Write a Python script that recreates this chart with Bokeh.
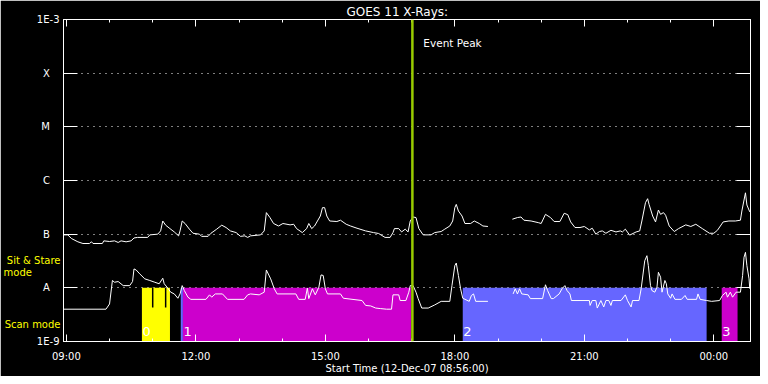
import math
from bokeh.plotting import figure
from bokeh.models import Range1d, FixedTicker, LinearAxis, LogAxis, Label, Span
from bokeh.embed import file_html
from bokeh.resources import INLINE

NAN = float("nan")

# ---------------- data ----------------
# GOES 11 long channel (1-8 A), W/m^2
long_time = ["08:56","09:02","09:07","09:16","09:23","09:32","09:35","09:37","09:50","09:52",
             "10:00","10:07","10:12","10:16","10:23","10:30","10:34","10:39","10:53","10:56",
             "11:07","11:11","11:14","11:18","11:24","11:30","11:36","11:38","11:41","11:45",
             "11:51","11:56","12:05","12:08","12:17","12:21","12:29","12:36","12:42","12:48",
             "12:56","13:02","13:08","13:12","13:16","13:30","13:35","13:38","13:43","13:48",
             "13:55","14:01","14:11","14:16","14:20","14:28","14:34","14:37","14:41","14:45",
             "14:49","14:53","14:56","14:59","15:02","15:06","15:16","15:21","15:29","15:35",
             "15:44","15:56","16:07","16:14","16:23","16:30","16:34","16:36","16:42","16:46",
             "16:51","16:55","16:58","17:02","17:06","17:10","17:16","17:27","17:32","17:41",
             "17:46","17:53","17:57","18:00","18:02","18:05","18:10","18:14","18:22","18:27",
             "18:34","18:39","18:46","19:03","19:20","19:27","19:32","19:36","19:46","19:56",
             "20:00","20:06","20:13","20:18","20:26","20:32","20:37","20:41","20:47","20:54",
             "21:00","21:07","21:11","21:16","21:21","21:25","21:30","21:37","21:44","21:50",
             "21:53","21:57","22:03","22:12","22:17","22:20","22:25","22:28","22:30","22:35",
             "22:39","22:43","22:46","22:50","22:53","22:58","23:05","23:11","23:21","23:28",
             "23:35","23:44","23:54","00:00","00:05","00:13","00:21","00:30","00:37","00:39",
             "00:44","00:46","00:50"]
long_flux = [0.97e-7,0.97e-7,0.83e-7,0.72e-7,0.67e-7,0.67e-7,0.72e-7,0.67e-7,0.67e-7,0.75e-7,
             0.73e-7,0.75e-7,0.70e-7,0.75e-7,0.72e-7,0.75e-7,0.85e-7,0.87e-7,0.87e-7,0.97e-7,
             1.00e-7,1.15e-7,1.76e-7,1.47e-7,1.27e-7,1.10e-7,0.93e-7,1.15e-7,1.76e-7,1.58e-7,
             1.24e-7,1.04e-7,1.00e-7,0.91e-7,0.91e-7,1.04e-7,1.24e-7,1.47e-7,1.33e-7,1.15e-7,
             1.07e-7,0.91e-7,0.93e-7,0.87e-7,0.93e-7,0.97e-7,1.15e-7,2.52e-7,2.04e-7,1.58e-7,
             1.42e-7,1.58e-7,1.49e-7,1.53e-7,1.27e-7,1.07e-7,1.27e-7,1.58e-7,1.27e-7,1.42e-7,
             1.76e-7,2.18e-7,3.12e-7,3.12e-7,2.18e-7,1.76e-7,1.72e-7,1.82e-7,1.53e-7,1.42e-7,
             1.29e-7,1.15e-7,1.07e-7,1.03e-7,0.87e-7,0.87e-7,1.07e-7,1.27e-7,1.27e-7,1.10e-7,
             1.24e-7,1.10e-7,1.76e-7,2.09e-7,2.04e-7,1.27e-7,0.97e-7,0.97e-7,1.07e-7,1.12e-7,
             1.24e-7,1.42e-7,1.76e-7,3.12e-7,3.59e-7,2.70e-7,2.18e-7,1.58e-7,1.58e-7,1.76e-7,
             1.58e-7,1.42e-7,1.39e-7,NAN,1.90e-7,2.04e-7,2.09e-7,1.82e-7,1.76e-7,1.64e-7,
             1.58e-7,2.34e-7,2.04e-7,1.72e-7,1.72e-7,2.45e-7,2.31e-7,1.69e-7,1.33e-7,1.33e-7,
             1.39e-7,1.20e-7,1.29e-7,1.00e-7,1.12e-7,1.15e-7,1.04e-7,1.18e-7,1.10e-7,1.15e-7,
             1.10e-7,1.24e-7,0.96e-7,1.10e-7,1.15e-7,1.76e-7,3.86e-7,4.58e-7,3.59e-7,2.18e-7,
             1.69e-7,2.82e-7,2.34e-7,2.52e-7,2.25e-7,1.42e-7,1.12e-7,1.27e-7,1.49e-7,1.39e-7,
             1.53e-7,1.27e-7,1.04e-7,1.04e-7,1.18e-7,1.69e-7,1.76e-7,1.76e-7,1.82e-7,2.70e-7,
             5.90e-7,3.50e-7,2.60e-7]

# GOES 11 short channel (0.5-4 A), W/m^2
short_time = ["08:56","09:55","10:00","10:04","10:07","10:12","10:19","10:28","10:32","10:34",
              "10:37","10:42","10:49","10:56","11:03","11:09","11:14","11:16","11:21","11:25",
              "11:30","11:35","11:38","11:41","11:44","11:49","11:53","12:14","12:19","12:22",
              "12:27","12:37","12:44","13:07","13:12","13:16","13:28","13:35","13:38","13:44",
              "13:49","13:53","14:19","14:23","14:32","14:35","14:37","14:42","14:46","14:51",
              "14:54","14:57","15:00","15:03","15:21","15:25","15:51","15:56","16:03","16:10",
              "16:17","16:25","16:32","16:34","16:42","16:44","16:52","16:56","16:58","17:02",
              "17:06","17:09","17:14","17:23","17:32","17:41","17:53","17:56","18:00","18:02",
              "18:05","18:08","18:11","18:20","18:23","18:26","18:29","18:46","19:03","19:21",
              "19:24","19:27","19:30","19:33","19:42","19:45","20:02","20:06","20:09","20:14",
              "20:17","20:25","20:29","20:33","20:36","20:40","20:42","21:07","21:08","21:11",
              "21:16","21:18","21:23","21:27","21:30","21:34","21:37","21:39","21:51","21:57",
              "22:00","22:05","22:07","22:16","22:19","22:24","22:27","22:29","22:32","22:34",
              "22:38","22:41","22:43","22:46","22:48","22:52","22:54","22:56","23:00","23:02",
              "23:06","23:15","23:20","23:23","23:36","23:38","23:41","23:50","23:57","00:08",
              "00:12","00:17","00:19","00:23","00:26","00:31","00:37","00:40","00:42","00:44",
              "00:46","00:49","00:50"]
short_flux = [0.40e-8,0.40e-8,0.50e-8,1.37e-8,1.27e-8,1.31e-8,1.10e-8,1.10e-8,1.31e-8,2.25e-8,
              2.15e-8,1.82e-8,1.47e-8,1.37e-8,1.27e-8,1.19e-8,1.51e-8,1.19e-8,0.99e-8,0.83e-8,
              0.77e-8,0.64e-8,0.77e-8,1.10e-8,0.89e-8,0.67e-8,0.61e-8,0.61e-8,0.74e-8,0.67e-8,
              0.77e-8,0.77e-8,0.61e-8,0.61e-8,0.74e-8,0.77e-8,0.74e-8,0.83e-8,2.15e-8,1.47e-8,
              0.96e-8,0.77e-8,0.77e-8,0.61e-8,0.61e-8,0.99e-8,0.63e-8,0.96e-8,0.74e-8,1.03e-8,
              1.74e-8,1.70e-8,0.96e-8,0.77e-8,0.77e-8,0.64e-8,0.58e-8,0.47e-8,0.46e-8,0.42e-8,
              0.41e-8,0.40e-8,0.40e-8,0.74e-8,0.74e-8,0.58e-8,0.58e-8,0.83e-8,1.10e-8,1.10e-8,
              0.83e-8,0.63e-8,0.42e-8,0.42e-8,0.48e-8,0.56e-8,0.56e-8,1.10e-8,2.59e-8,2.90e-8,
              1.69e-8,0.96e-8,0.64e-8,0.56e-8,0.72e-8,0.77e-8,0.56e-8,0.56e-8,NAN,0.77e-8,
              0.96e-8,0.77e-8,0.96e-8,0.77e-8,0.74e-8,0.63e-8,0.63e-8,1.14e-8,0.89e-8,0.63e-8,
              0.63e-8,0.77e-8,0.96e-8,1.10e-8,0.89e-8,0.77e-8,0.58e-8,0.58e-8,0.47e-8,0.58e-8,
              0.58e-8,0.42e-8,0.58e-8,0.44e-8,0.58e-8,0.58e-8,0.47e-8,0.58e-8,0.58e-8,0.74e-8,
              0.58e-8,0.44e-8,0.58e-8,0.58e-8,0.96e-8,3.20e-8,3.97e-8,2.59e-8,1.10e-8,0.89e-8,
              0.83e-8,1.03e-8,1.95e-8,1.58e-8,0.83e-8,1.37e-8,1.19e-8,0.77e-8,0.64e-8,0.77e-8,
              0.61e-8,0.61e-8,0.72e-8,0.61e-8,0.61e-8,0.77e-8,0.61e-8,0.58e-8,0.56e-8,0.58e-8,
              0.72e-8,0.83e-8,0.67e-8,0.83e-8,0.67e-8,0.83e-8,0.83e-8,1.69e-8,3.70e-8,4.58e-8,
              2.59e-8,1.47e-8,0.96e-8]

# instrument mode bars
bar_start = ["10:45","11:39","11:42","18:11","00:11"]
bar_end   = ["11:24","11:42","16:59","23:50","00:33"]
bar_color = ["#ffff00","#6666ff","#cc00cc","#6666ff","#cc00cc"]
bar_label = ["0","","1","2","3"]
dropout_time = ["11:00","11:18"]
dropout_low = 0.43e-8

event_peak = "17:01"
start_time = "08:56"
end_time = "00:51"

y_ticks = [1e-9,1e-8,1e-7,1e-6,1e-5,1e-4,1e-3]
y_tick_labels = ["1E-9","A","B","C","M","X","1E-3"]
mode_label_pos = [3.3e-8, 1.97e-8, 2.07e-9]
mode_labels = ["Sit & Stare", "mode", "Scan mode"]
x_major = [9,12,15,18,21,24]
x_major_labels = ["09:00","12:00","15:00","18:00","21:00","00:00"]
x_minor = list(range(9,25))


def hrs(s):
    h, m = s.split(":")
    v = int(h) + int(m) / 60.0
    if v < 8:
        v += 24
    return v

FONT = "DejaVu Sans"
NB = "\u00a0"
x0, x1 = hrs(start_time), hrs(end_time)

p = figure(width=760, height=376, output_backend="svg", toolbar_location=None,
           x_range=Range1d(x0, x1), y_range=Range1d(1e-9, 1e-3), y_axis_type="log",
           background_fill_color="black", border_fill_color="black",
           min_border_left=61, min_border_right=10, min_border_top=19, min_border_bottom=33,
           outline_line_color="white")

p.title.text = "GOES 11 X-Rays:"
p.title.align = "left"
p.title.text_color = "white"
p.title.text_font = FONT
p.title.text_font_size = "12px"
p.title.text_font_style = "normal"
p.title.standoff = 2
p.title.offset = 283

xt = FixedTicker(ticks=x_major, minor_ticks=x_minor)
yt = FixedTicker(ticks=y_ticks, minor_ticks=[])

def hide_labels(ax):
    ax.major_label_text_font_size = "1px"
    ax.major_label_text_alpha = 0
    ax.major_label_standoff = 0

def style_x(ax, labels):
    ax.ticker = xt
    ax.axis_line_color = "white"
    ax.major_tick_line_color = "white"
    ax.minor_tick_line_color = "white"
    ax.major_tick_in = 7
    ax.major_tick_out = 0
    ax.minor_tick_in = 3
    ax.minor_tick_out = 0
    if labels:
        ax.major_label_overrides = {k: v for k, v in zip(x_major, x_major_labels)}
        ax.major_label_text_color = "white"
        ax.major_label_text_font = FONT
        ax.major_label_text_font_size = "10px"
        ax.major_label_standoff = 9
        ax.axis_label = "Start Time (12-Dec-07 08:56:00)"
        ax.axis_label_text_color = "white"
        ax.axis_label_text_font = FONT
        ax.axis_label_text_font_size = "10px"
        ax.axis_label_text_font_style = "normal"
        ax.axis_label_standoff = -2
    else:
        hide_labels(ax)

def style_y(ax, labels):
    ax.ticker = yt
    ax.axis_line_color = "white"
    ax.major_tick_line_color = "white"
    ax.minor_tick_line_color = None
    ax.major_tick_in = 14
    ax.major_tick_out = 0
    if labels:
        ov = {}
        for v, t in zip(y_ticks, y_tick_labels):
            ov[v] = t if len(t) > 1 else t + NB * 3
        ax.major_label_overrides = ov
        ax.major_label_text_color = "white"
        ax.major_label_text_font = FONT
        ax.major_label_text_font_size = "10px"
        ax.major_label_standoff = 4
    else:
        hide_labels(ax)

style_x(p.xaxis[0], True)
style_y(p.yaxis[0], True)

# yellow mode captions on an outer left axis without line or ticks
mode_ax = LogAxis(ticker=FixedTicker(ticks=mode_label_pos, minor_ticks=[]))
mode_ax.axis_line_color = None
mode_ax.major_tick_line_color = None
mode_ax.minor_tick_line_color = None
mode_ax.major_tick_in = 0
mode_ax.major_tick_out = 0
mode_ax.major_label_overrides = {mode_label_pos[0]: mode_labels[0],
                                 mode_label_pos[1]: mode_labels[1] + NB * 9,
                                 mode_label_pos[2]: mode_labels[2]}
mode_ax.major_label_text_color = "#ffff00"
mode_ax.major_label_text_font = FONT
mode_ax.major_label_text_font_size = "10px"
mode_ax.major_label_standoff = -27
p.add_layout(mode_ax, "left")

top_ax = LinearAxis()
style_x(top_ax, False)
p.add_layout(top_ax, "above")
right_ax = LogAxis()
style_y(right_ax, False)
p.add_layout(right_ax, "right")

p.xgrid.visible = False
p.ygrid.ticker = yt
p.ygrid.grid_line_color = "white"
p.ygrid.grid_line_dash = "1 5"
p.ygrid.grid_line_width = 1

# mode bars
p.quad(left=[hrs(s) for s in bar_start], right=[hrs(s) for s in bar_end],
       bottom=1e-9, top=1e-8, fill_color=bar_color, line_color=None)
p.segment(x0=[hrs(s) for s in dropout_time], x1=[hrs(s) for s in dropout_time],
          y0=1e-8, y1=dropout_low, line_color="black", line_width=1.5)

# curves
p.line([hrs(s) for s in long_time], long_flux, line_color="white", line_width=1)
p.line([hrs(s) for s in short_time], short_flux, line_color="white", line_width=1)

p.add_layout(Span(location=hrs(event_peak), dimension="height",
                  line_color="#99cc00", line_width=2.5))

def lab(x, y, text, size, color="white", align="left", baseline="middle", xoff=0):
    p.add_layout(Label(x=x, y=y, text=text, text_font=FONT, text_font_size=size,
                       text_color=color, text_align=align, text_baseline=baseline,
                       x_offset=xoff))

# bar numbers
for s, t in zip(bar_start, bar_label):
    if t:
        lab(hrs(s), 1.55e-9, t, "13px", xoff=0.5)

lab(17.27, 3.6e-4, "Event Peak", "10.5px")

open("out.html", "w").write(file_html(p, INLINE))
